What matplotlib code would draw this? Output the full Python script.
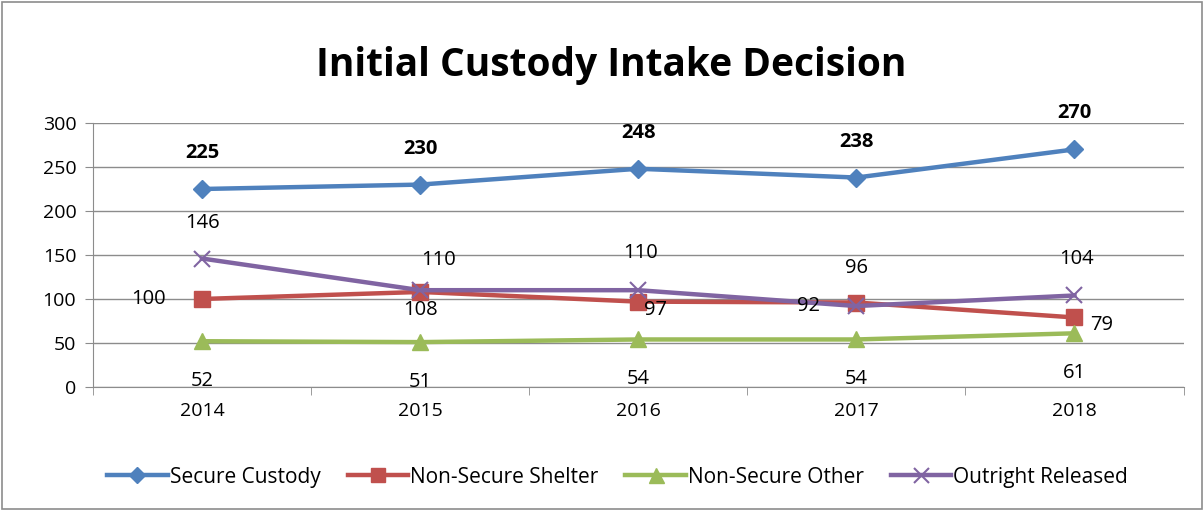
import matplotlib
matplotlib.use('Agg')
from matplotlib import pyplot as plt
from matplotlib.patches import Rectangle
import numpy as np

years = ['2014', '2015', '2016', '2017', '2018']
secure_custody = [225, 230, 248, 238, 270]
non_secure_shelter = [100, 108, 97, 96, 79]
non_secure_other = [52, 51, 54, 54, 61]
outright_released = [146, 110, 110, 92, 104]

plt.rcParams['font.family'] = ['Open Sans', 'DejaVu Sans']

fig = plt.figure(figsize=(12.04, 5.11), dpi=100)
ax = fig.add_axes([0.0772, 0.2427, 0.9058, 0.5166])
fig.patches.append(Rectangle((0.002, 0.004), 0.996, 0.992, transform=fig.transFigure,
                             fill=False, edgecolor='#8c8c8c', linewidth=1.2))

x = np.arange(len(years))
series = [
    ('Secure Custody', secure_custody, '#4F81BD', 'D', 9),
    ('Non-Secure Shelter', non_secure_shelter, '#C0504D', 's', 11),
    ('Non-Secure Other', non_secure_other, '#9BBB59', '^', 12),
    ('Outright Released', outright_released, '#8064A2', 'x', 12),
]
for name, vals, col, mk, ms in series:
    ax.plot(x, vals, color=col, linewidth=3.2, marker=mk, markersize=ms,
            markeredgewidth=1.5 if mk == 'x' else 1, markeredgecolor=col,
            label=name)

# data labels (pixel offsets)
lbl = 14.5
for i, v in enumerate(secure_custody):
    ax.annotate(str(v), (x[i], v), xytext=(0, 36), textcoords='offset pixels',
                ha='center', va='center', fontsize=lbl, fontweight='bold')

shelter_pos = [(-54, 0), (0, -18), (17, -8), (0, 35), (27, -8)]
for i, v in enumerate(non_secure_shelter):
    dx, dy = shelter_pos[i]
    ax.annotate(str(v), (x[i], v), xytext=(dx, dy), textcoords='offset pixels',
                ha='center', va='center', fontsize=lbl)

for i, v in enumerate(non_secure_other):
    ax.annotate(str(v), (x[i], v), xytext=(0, -40), textcoords='offset pixels',
                ha='center', va='center', fontsize=lbl)

released_pos = [(0, 36), (18, 30), (2, 37), (-48, 0), (2, 36)]
for i, v in enumerate(outright_released):
    dx, dy = released_pos[i]
    ax.annotate(str(v), (x[i], v), xytext=(dx, dy), textcoords='offset pixels',
                ha='center', va='center', fontsize=lbl)

ax.set_xlim(-0.5, 4.5)
ax.set_ylim(0, 300)
ax.set_yticks(range(0, 301, 50))
ax.set_xticks(x)
ax.set_xticklabels(years)
ax.set_xticks(np.arange(-0.5, 4.6, 1), minor=True)
ax.tick_params(axis='x', which='major', length=0, pad=11, labelsize=14)
ax.tick_params(axis='x', which='minor', length=6, color='#8c8c8c', direction='out')
ax.tick_params(axis='y', length=6, color='#8c8c8c', labelsize=14, pad=6)
ax.grid(axis='y', color='#8c8c8c', linewidth=1)
ax.set_axisbelow(True)
for s in ['top', 'right']:
    ax.spines[s].set_visible(False)
for s in ['left', 'bottom']:
    ax.spines[s].set_color('#8c8c8c')

fig.text(0.508, 0.872, 'Initial Custody Intake Decision', ha='center', va='center',
         fontsize=28, fontweight='bold')

fig.legend(loc='center', bbox_to_anchor=(0.513, 0.066), ncol=4, frameon=False,
           fontsize=15, handlelength=2.9, handletextpad=0.1, columnspacing=1.3,
           markerscale=0.9)

fig.savefig('out.png', dpi=100)
